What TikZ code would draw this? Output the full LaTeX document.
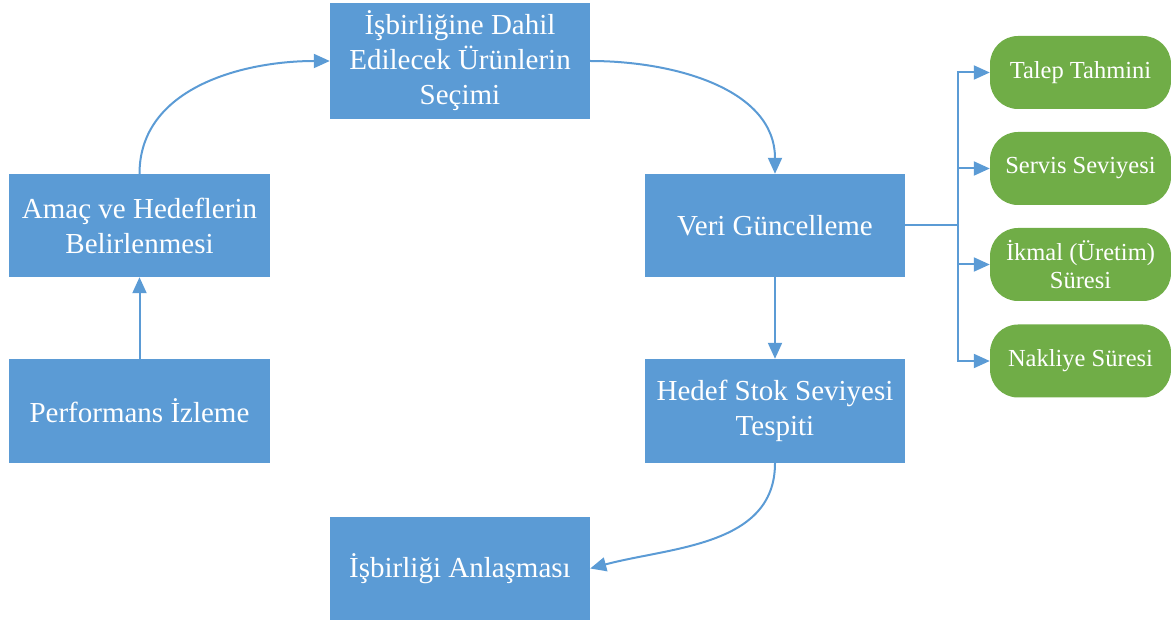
\documentclass[tikz,border=0pt]{standalone}
\usepackage{fontspec}
\setmainfont{Liberation Serif}
\usetikzlibrary{arrows.meta}
\definecolor{boxblue}{HTML}{5B9BD5}
\definecolor{leafgreen}{HTML}{70AD47}
\begin{document}
\begin{tikzpicture}[x=1pt,y=1pt,
  stepbox/.style={fill=boxblue, text=white, minimum width=260pt, minimum height=103pt,
    inner sep=0pt, align=center, font=\fontsize{29}{35}\selectfont},
  leaf/.style={fill=leafgreen, text=white, rounded corners=28pt, minimum width=181pt,
    minimum height=73pt, inner sep=0pt, align=center, font=\fontsize{24.5}{28}\selectfont},
  wire/.style={draw=boxblue, line width=2pt},
  link/.style={wire, -{Triangle[length=16pt,width=14pt]}}]
\useasboundingbox (0,0) rectangle (1171,622);

% process steps
\node[stepbox, minimum height=116pt] (sel) at (460,561) {İşbirliğine Dahil\\Edilecek Ürünlerin\\Seçimi};
\node[stepbox, minimum width=261pt] (amac) at (139.5,396.5) {Amaç ve Hedeflerin\\Belirlenmesi};
\node[stepbox, minimum width=261pt, minimum height=104pt] (perf) at (139.5,211) {Performans İzleme};
\node[stepbox] (veri) at (775,396.5) {Veri Güncelleme};
\node[stepbox, minimum height=104pt] (hedef) at (775,211) {Hedef Stok Seviyesi\\Tespiti};
\node[stepbox] (anlas) at (460,53.5) {İşbirliği Anlaşması};

% data inputs
\node[leaf] (talep) at (1080.5,549.5) {Talep Tahmini};
\node[leaf] (servis) at (1080.5,453.5) {Servis Seviyesi};
\node[leaf] (ikmal) at (1080.5,357.5) {İkmal (Üretim)\\Süresi};
\node[leaf] (nakliye) at (1080.5,261) {Nakliye Süresi};

% cycle connectors
\draw[link] (perf.north) -- (amac.south);
\draw[link] (amac.north) to[out=90,in=180] (sel.west);
\draw[link] (sel.east) to[out=0,in=90] (veri.north);
\draw[link] (veri.south) -- (hedef.north);
\draw[link] (hedef.south) to[out=-90,in=15] (anlas.east);

% bus to the data inputs
\coordinate (bus) at (958,396.5);
\draw[wire] (veri.east) -- (bus);
\foreach \n in {talep,servis,ikmal,nakliye}
  \draw[link] (bus) |- (\n.west);
\end{tikzpicture}
\end{document}
